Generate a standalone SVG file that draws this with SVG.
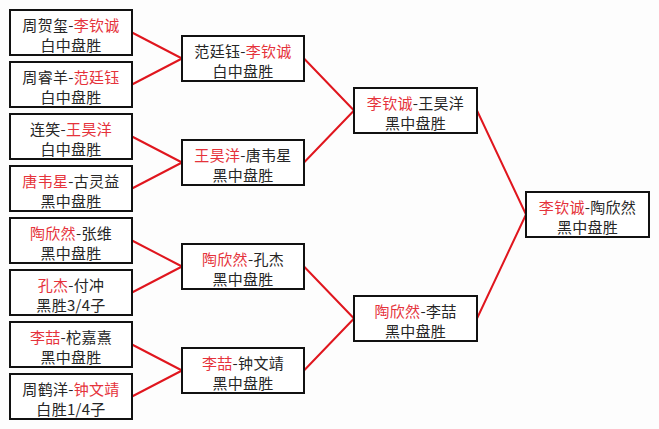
<svg xmlns="http://www.w3.org/2000/svg" width="659" height="429" viewBox="0 0 659 429">
<style>
.bg{fill:#fdfdfd}
.box{fill:#ffffff;stroke:#111111;stroke-width:2}
.t{font-family:"Noto Sans CJK SC","Noto Sans",sans-serif;font-size:15px;fill:#262626;text-anchor:middle;letter-spacing:0.3px}
.r{fill:#e5333b}
#connectors line{stroke:#e0161e;stroke-width:2;stroke-linecap:round}
</style>
<rect class="bg" x="0" y="0" width="659" height="429"/>
<g id="connectors">
<line x1="132" y1="32.5" x2="182" y2="58.5"/>
<line x1="132" y1="84.5" x2="182" y2="58.5"/>
<line x1="132" y1="136.5" x2="182" y2="162.5"/>
<line x1="132" y1="188.5" x2="182" y2="162.5"/>
<line x1="132" y1="240.5" x2="182" y2="266.5"/>
<line x1="132" y1="292.5" x2="182" y2="266.5"/>
<line x1="132" y1="344.5" x2="182" y2="370.5"/>
<line x1="132" y1="396.5" x2="182" y2="370.5"/>
<line x1="304" y1="58.5" x2="354" y2="110.5"/>
<line x1="304" y1="162.5" x2="354" y2="110.5"/>
<line x1="304" y1="266.5" x2="354" y2="318.5"/>
<line x1="304" y1="370.5" x2="354" y2="318.5"/>
<line x1="477" y1="110.5" x2="526" y2="214.5"/>
<line x1="477" y1="318.5" x2="526" y2="214.5"/>
</g>
<g id="r1m1"><rect class="box" x="10" y="10" width="122" height="45"/><text class="t" x="71" y="31">周贺玺-<tspan class="r">李钦诚</tspan></text><text class="t" x="71" y="51">白中盘胜</text></g>
<g id="r1m2"><rect class="box" x="10" y="62" width="122" height="45"/><text class="t" x="71" y="83">周睿羊-<tspan class="r">范廷钰</tspan></text><text class="t" x="71" y="103">白中盘胜</text></g>
<g id="r1m3"><rect class="box" x="10" y="114" width="122" height="45"/><text class="t" x="71" y="135">连笑-<tspan class="r">王昊洋</tspan></text><text class="t" x="71" y="155">白中盘胜</text></g>
<g id="r1m4"><rect class="box" x="10" y="166" width="122" height="45"/><text class="t" x="71" y="187"><tspan class="r">唐韦星</tspan>-古灵益</text><text class="t" x="71" y="207">黑中盘胜</text></g>
<g id="r1m5"><rect class="box" x="10" y="218" width="122" height="45"/><text class="t" x="71" y="239"><tspan class="r">陶欣然</tspan>-张维</text><text class="t" x="71" y="259">黑中盘胜</text></g>
<g id="r1m6"><rect class="box" x="10" y="270" width="122" height="45"/><text class="t" x="71" y="291"><tspan class="r">孔杰</tspan>-付冲</text><text class="t" x="71" y="311">黑胜3/4子</text></g>
<g id="r1m7"><rect class="box" x="10" y="322" width="122" height="45"/><text class="t" x="71" y="343"><tspan class="r">李喆</tspan>-柁嘉熹</text><text class="t" x="71" y="363">黑中盘胜</text></g>
<g id="r1m8"><rect class="box" x="10" y="374" width="122" height="45"/><text class="t" x="71" y="395">周鹤洋-<tspan class="r">钟文靖</tspan></text><text class="t" x="71" y="415">白胜1/4子</text></g>
<g id="r2m1"><rect class="box" x="182" y="36" width="122" height="45"/><text class="t" x="243" y="57">范廷钰-<tspan class="r">李钦诚</tspan></text><text class="t" x="243" y="77">白中盘胜</text></g>
<g id="r2m2"><rect class="box" x="182" y="140" width="122" height="45"/><text class="t" x="243" y="161"><tspan class="r">王昊洋</tspan>-唐韦星</text><text class="t" x="243" y="181">黑中盘胜</text></g>
<g id="r2m3"><rect class="box" x="182" y="244" width="122" height="45"/><text class="t" x="243" y="265"><tspan class="r">陶欣然</tspan>-孔杰</text><text class="t" x="243" y="285">黑中盘胜</text></g>
<g id="r2m4"><rect class="box" x="182" y="348" width="122" height="45"/><text class="t" x="243" y="369"><tspan class="r">李喆</tspan>-钟文靖</text><text class="t" x="243" y="389">黑中盘胜</text></g>
<g id="r3m1"><rect class="box" x="354" y="88" width="123" height="45"/><text class="t" x="415.5" y="109"><tspan class="r">李钦诚</tspan>-王昊洋</text><text class="t" x="415.5" y="129">黑中盘胜</text></g>
<g id="r3m2"><rect class="box" x="354" y="296" width="123" height="45"/><text class="t" x="415.5" y="317"><tspan class="r">陶欣然</tspan>-李喆</text><text class="t" x="415.5" y="337">黑中盘胜</text></g>
<g id="final"><rect class="box" x="526" y="192" width="123" height="45"/><text class="t" x="587.5" y="213"><tspan class="r">李钦诚</tspan>-陶欣然</text><text class="t" x="587.5" y="233">黑中盘胜</text></g>
</svg>
